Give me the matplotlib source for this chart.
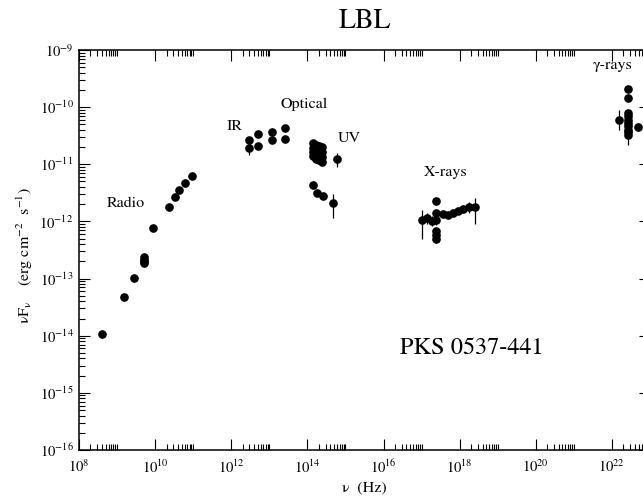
import numpy as np
import matplotlib
matplotlib.use("Agg")
import matplotlib.pyplot as plt
from matplotlib.ticker import FixedLocator, LogLocator, NullFormatter

plt.rcParams['font.family'] = ['STIXGeneral', 'DejaVu Serif']
plt.rcParams['mathtext.fontset'] = 'stix'

# radio
radio_nu = [4.0e8, 1.5e9, 2.75e9, 5.0e9, 5.0e9, 5.0e9, 5.0e9, 8.9e9,
            2.3e10, 3.3e10, 4.2e10, 6.2e10, 9.5e10]
radio_f = [1.06e-14, 4.8e-14, 1.03e-13, 2.35e-13, 2.15e-13, 2.0e-13, 1.9e-13,
           7.8e-13, 1.82e-12, 2.7e-12, 3.6e-12, 4.8e-12, 6.3e-12]

# IR
ir_nu = [2.96e12, 2.96e12, 5.0e12, 5.0e12, 1.2e13, 1.2e13, 2.57e13, 2.57e13]
ir_f = [2.66e-11, 1.95e-11, 3.4e-11, 2.1e-11, 3.7e-11, 2.66e-11, 4.3e-11, 2.76e-11]

# optical / UV
opt_nu = [1.38e14, 1.38e14, 1.38e14, 1.38e14,
          1.66e14, 1.66e14, 1.66e14, 1.66e14,
          2.0e14, 2.0e14, 2.0e14, 2.0e14,
          2.4e14, 2.4e14, 2.4e14, 2.4e14,
          1.38e14, 1.82e14, 2.51e14]
opt_f = [2.4e-11, 1.93e-11, 1.64e-11, 1.4e-11,
         2.19e-11, 1.78e-11, 1.45e-11, 1.23e-11,
         2.09e-11, 1.7e-11, 1.4e-11, 1.17e-11,
         2.0e-11, 1.64e-11, 1.35e-11, 1.11e-11,
         4.4e-12, 3.2e-12, 2.8e-12]
uv_nu = [6.0e14, 4.6e14]
uv_f = [1.23e-11, 2.1e-12]

# X-rays
xr_nu = [1.0e17, 1.41e17, 1.82e17, 2.45e17, 2.45e17, 2.45e17, 2.45e17, 2.45e17,
         2.45e17, 3.55e17, 5.0e17, 6.8e17, 9.1e17, 1.23e18, 1.74e18, 2.5e18]
xr_f = [1.06e-12, 1.16e-12, 1.02e-12, 2.3e-12, 1.4e-12, 1.06e-12, 6.8e-13,
        5.8e-13, 4.9e-13, 1.33e-12, 1.29e-12, 1.4e-12, 1.54e-12, 1.65e-12,
        1.78e-12, 1.77e-12]

# gamma-rays
g_nu = [1.5e22, 2.6e22, 2.6e22, 2.6e22, 2.6e22, 2.6e22, 2.6e22, 2.6e22,
        2.6e22, 2.6e22, 2.6e22, 4.9e22]
g_f = [5.9e-11, 2.05e-10, 1.43e-10, 7.9e-11, 6.9e-11, 6.0e-11, 5.25e-11,
       4.6e-11, 4.0e-11, 3.6e-11, 3.25e-11, 4.5e-11]

# points with error bars: nu, flux, lower, upper
bar_nu = [2.96e12, 6.0e14, 4.6e14, 1.0e17, 1.41e17, 1.82e17, 2.45e17,
          1.23e18, 1.74e18, 2.5e18, 1.5e22, 2.6e22, 4.9e22]
bar_f = [1.95e-11, 1.23e-11, 2.1e-12, 1.06e-12, 1.16e-12, 1.02e-12, 1.06e-12,
         1.65e-12, 1.78e-12, 1.77e-12, 5.9e-11, 3.25e-11, 4.5e-11]
bar_lo = [1.45e-11, 8.9e-12, 1.13e-12, 4.9e-13, 9.0e-13, 8.2e-13, 8.5e-13,
          1.45e-12, 1.38e-12, 8.9e-13, 4.0e-11, 2.2e-11, 3.8e-11]
bar_hi = [2.3e-11, 1.55e-11, 2.98e-12, 1.58e-12, 1.42e-12, 1.25e-12, 1.3e-12,
          1.9e-12, 2.2e-12, 2.6e-12, 8.9e-11, 4.0e-11, 5.3e-11]

xmajor = [1e8, 1e10, 1e12, 1e14, 1e16, 1e18, 1e20, 1e22]
xmajor_labels = [r'$10^{8}$', r'$10^{10}$', r'$10^{12}$', r'$10^{14}$',
                 r'$10^{16}$', r'$10^{18}$', r'$10^{20}$', r'$10^{22}$']
ymajor = [1e-16, 1e-15, 1e-14, 1e-13, 1e-12, 1e-11, 1e-10, 1e-9]
ymajor_labels = [r'$10^{-16}$', r'$10^{-15}$', r'$10^{-14}$', r'$10^{-13}$',
                 r'$10^{-12}$', r'$10^{-11}$', r'$10^{-10}$', r'$10^{-9}$']

fig = plt.figure(figsize=(6.43, 4.97), dpi=100)
ax = fig.add_axes([79/643, 47/497, 571/643, 400/497])
ax.set_xscale('log')
ax.set_yscale('log')
ax.set_xlim(1e8, 1e23)
ax.set_ylim(1e-16, 1e-9)

ms = 5.2
for nu, f in [(radio_nu, radio_f), (ir_nu, ir_f), (opt_nu, opt_f),
              (uv_nu, uv_f), (xr_nu, xr_f), (g_nu, g_f)]:
    ax.plot(nu, f, 'o', color='black', markersize=ms, linestyle='none')

bf = np.array(bar_f)
yerr = [bf - np.array(bar_lo), np.array(bar_hi) - bf]
ax.errorbar(bar_nu, bar_f, yerr=yerr, fmt='none', ecolor='black',
            elinewidth=0.9, capsize=0)

# ticks
ax.xaxis.set_major_locator(FixedLocator(xmajor))
ax.set_xticklabels(xmajor_labels)
xminor = [k * 10.0**e for e in range(8, 24, 2) for k in range(2, 11)]
ax.xaxis.set_minor_locator(FixedLocator(xminor))
ax.xaxis.set_minor_formatter(NullFormatter())
ax.yaxis.set_major_locator(FixedLocator(ymajor))
ax.set_yticklabels(ymajor_labels)
ax.yaxis.set_minor_locator(LogLocator(base=10, subs=np.arange(2, 10)))
ax.yaxis.set_minor_formatter(NullFormatter())

ax.tick_params(which='both', direction='in', top=True, right=True, width=0.8)
ax.tick_params(which='major', length=8)
ax.tick_params(which='minor', length=4.3)
ax.tick_params(axis='y', which='minor', right=False)
ax.tick_params(axis='x', labelsize=10.5, pad=6)
ax.tick_params(axis='y', labelsize=10.5, pad=4)
for s in ax.spines.values():
    s.set_linewidth(1.1)

ax.set_xlabel('ν  (Hz)', fontsize=11.5, labelpad=4)
fig.text(25/643, 1 - 256/497,
         r'νF$_{\mathrm{\nu}}$    (erg cm$^{-2}$  s$^{-1}$)',
         rotation=90, ha='center', va='center', fontsize=11.5)
fig.text(364.5/643, 1 - 21/497, 'LBL', ha='center', va='center', fontsize=20)

tsz = 11.5
ax.text(1.7e9, 2.1e-12, 'Radio', ha='center', va='center', fontsize=tsz)
ax.text(1.2e12, 4.7e-11, 'IR', ha='center', va='center', fontsize=tsz)
ax.text(8.3e13, 1.13e-10, 'Optical', ha='center', va='center', fontsize=tsz)
ax.text(1.23e15, 2.9e-11, 'UV', ha='center', va='center', fontsize=tsz)
ax.text(4.3e17, 7.3e-12, 'X-rays', ha='center', va='center', fontsize=tsz)
ax.text(1.02e22, 5.5e-10, 'γ-rays', ha='center', va='center', fontsize=tsz)
ax.text(2.04e18, 6.0e-15, 'PKS 0537-441', ha='center', va='center', fontsize=17.5)

fig.savefig('out.png', dpi=100)
